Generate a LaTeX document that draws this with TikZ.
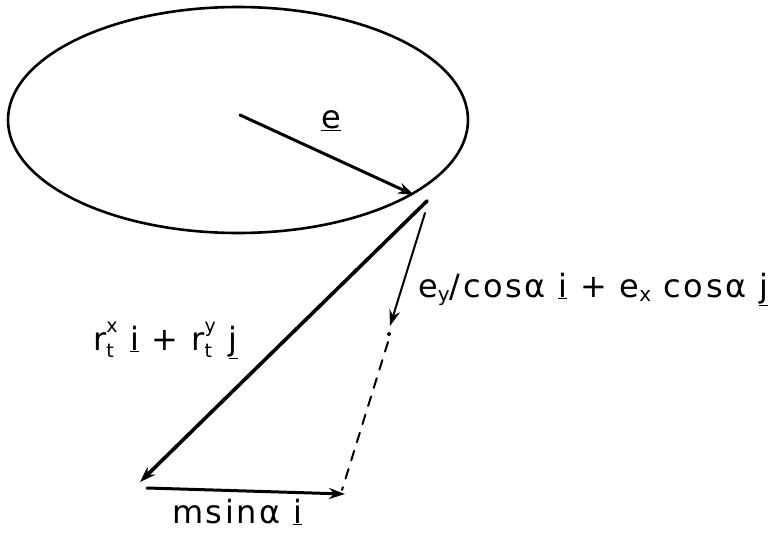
\documentclass[tikz,border=0pt]{standalone}
\usepackage{fontspec}
\setmainfont{DejaVu Sans}[LetterSpace=8]
\usetikzlibrary{arrows.meta}
\newcommand{\ul}[1]{\underline{#1}}
\newcommand{\lo}[1]{\raisebox{-0.25ex}{\fontsize{20}{20}\selectfont #1}}
\newcommand{\rt}[1]{r\rlap{\raisebox{-0.45ex}{\fontsize{19}{19}\selectfont t}}\raisebox{1.0ex}{\fontsize{19}{19}\selectfont #1}}
\begin{document}
\begin{tikzpicture}[x=1pt,y=-1pt,
  lbl/.style={inner sep=0pt,anchor=base west,font=\fontsize{32}{36}\selectfont},
  tip/.style={-{Stealth[length=16pt,width=11pt]}},
  line cap=round]
\useasboundingbox (0,0) rectangle (771,538);
\draw[line width=2.6pt] (238,120) ellipse [x radius=230, y radius=113];
\coordinate (C) at (240,115);
\coordinate (E) at (414,195);
\coordinate (R0) at (427,201);
\coordinate (R1) at (140,482);
\coordinate (T0) at (425,213);
\coordinate (T1) at (390,326);
\coordinate (D0) at (388,342);
\coordinate (D1) at (342,490);
\coordinate (M0) at (147,488);
\coordinate (M1) at (345,494);
\draw[tip,line width=3pt] (C) -- (E);
\draw[tip,line width=3.6pt] (R0) -- (R1);
\draw[tip,line width=2pt] (T0) -- (T1);
\fill (389,334) circle (2pt);
\draw[line width=2pt,dash pattern=on 10pt off 9pt] (D0) -- (D1);
\draw[tip,line width=3pt] (M0) -- (M1);
\node[lbl] (le) at (321,128) {\ul{e}};
\node[lbl] (lr) at (93,350) {\rt{x} \ul{i} + \rt{y} \ul{j}};
\node[lbl] (ley) at (418,297) {e\lo{y}/cosα \ul{i} + e\lo{x} cosα \ul{j}};
\node[lbl] (lm) at (172,523) {msinα \ul{i}};
\end{tikzpicture}
\end{document}
